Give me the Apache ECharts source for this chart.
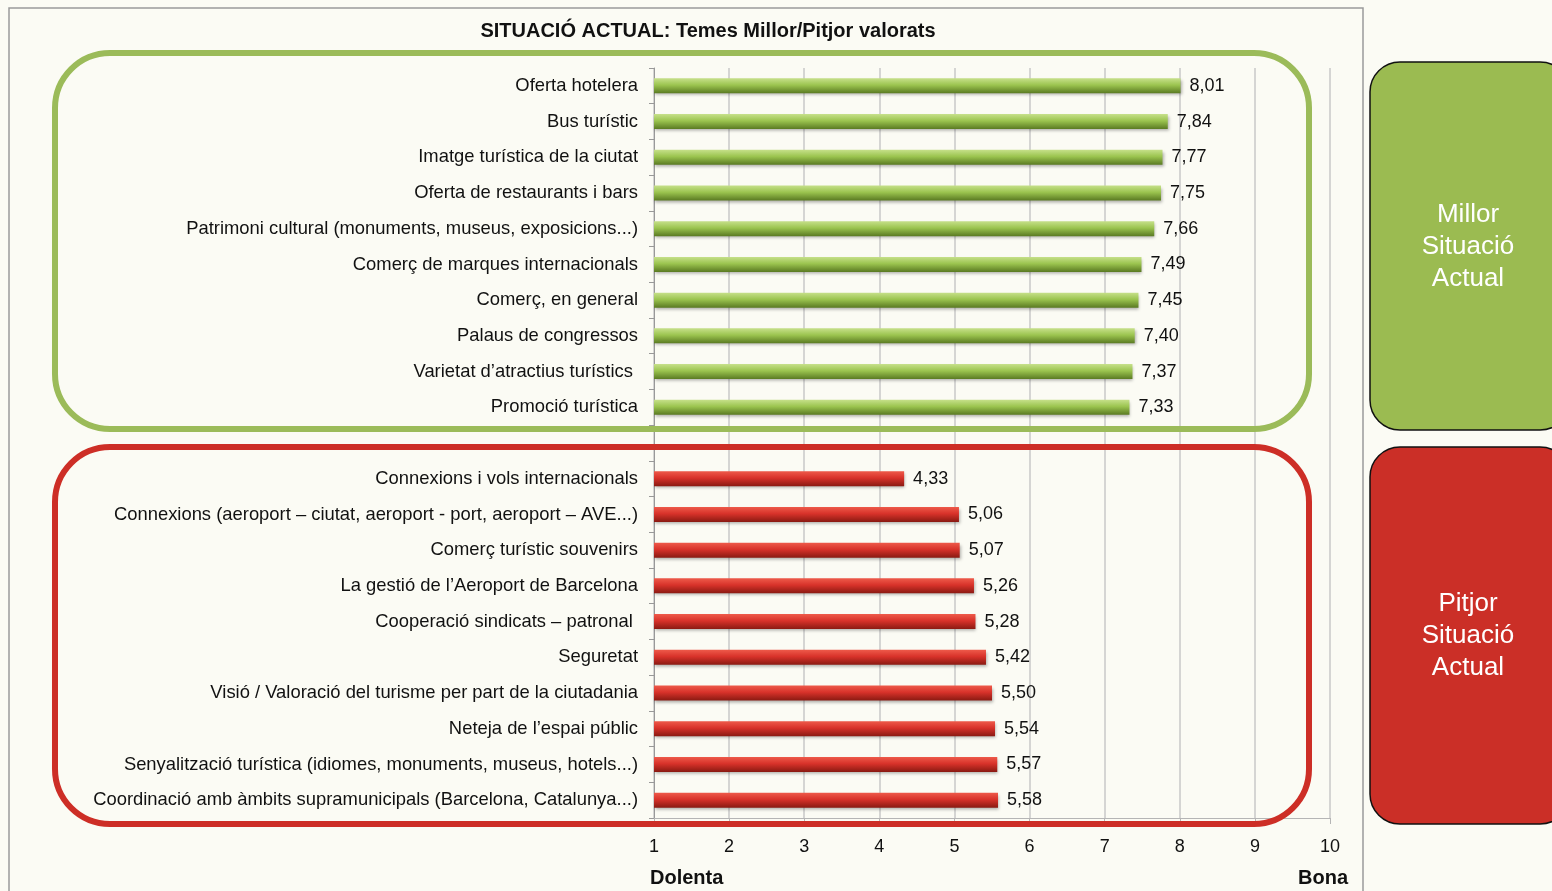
<!DOCTYPE html>
<html>
<head>
<meta charset="utf-8">
<script src="https://cdn.jsdelivr.net/npm/echarts@6/dist/echarts.min.js"></script>
<style>
  html, body { margin: 0; padding: 0; background: #fbfbf4; }
  #chart { width: 1552px; height: 891px; }
</style>
</head>
<body>
<div id="chart"></div>
<script>
// temes millor valorats
const bestTopics = [
  "Oferta hotelera",
  "Bus turístic",
  "Imatge turística de la ciutat",
  "Oferta de restaurants i bars",
  "Patrimoni cultural (monuments, museus, exposicions...)",
  "Comerç de marques internacionals",
  "Comerç, en general",
  "Palaus de congressos",
  "Varietat d’atractius turístics ",
  "Promoció turística"
];
const bestScores = [8.01, 7.84, 7.77, 7.75, 7.66, 7.49, 7.45, 7.40, 7.37, 7.33];

// temes pitjor valorats
const worstTopics = [
  "Connexions i vols internacionals",
  "Connexions (aeroport – ciutat, aeroport - port, aeroport – AVE...)",
  "Comerç turístic souvenirs",
  "La gestió de l’Aeroport de Barcelona",
  "Cooperació sindicats – patronal ",
  "Seguretat",
  "Visió / Valoració del turisme per part de la ciutadania",
  "Neteja de l’espai públic",
  "Senyalització turística (idiomes, monuments, museus, hotels...)",
  "Coordinació amb àmbits supramunicipals (Barcelona, Catalunya...)"
];
const worstScores = [4.33, 5.06, 5.07, 5.26, 5.28, 5.42, 5.50, 5.54, 5.57, 5.58];

const categories = bestTopics.concat([""], worstTopics);
const greenData = bestScores.concat(new Array(worstScores.length + 1).fill(null));
const redData = new Array(bestScores.length + 1).fill(null).concat(worstScores);

const FONT = "Liberation Sans, Arial, sans-serif";

let myChart = echarts.init(document.getElementById("chart"));

function barStyle(light, mid, dark) {
  return {
    color: new echarts.graphic.LinearGradient(0, 0, 0, 1, [
      { offset: 0, color: light },
      { offset: 0.45, color: mid },
      { offset: 1, color: dark }
    ]),
    shadowColor: "rgba(0,0,0,0.3)",
    shadowBlur: 3,
    shadowOffsetX: 1,
    shadowOffsetY: 2
  };
}

const valueLabel = {
  show: true,
  position: "right",
  distance: 9,
  color: "#111",
  fontSize: 18,
  fontFamily: FONT,
  formatter: (p) => p.value.toFixed(2).replace(".", ",")
};

myChart.setOption({
  backgroundColor: "#fbfbf4",
  animation: false,
  title: {
    text: "SITUACIÓ ACTUAL: Temes Millor/Pitjor valorats",
    left: 703,
    textAlign: "center",
    top: 16,
    textStyle: { fontSize: 20, fontWeight: "bold", color: "#111", fontFamily: FONT }
  },
  grid: { left: 654, right: 222, top: 68, bottom: 73 },
  xAxis: {
    type: "value",
    min: 1,
    max: 10,
    interval: 1,
    axisLine: { show: true, lineStyle: { color: "#b5b5b5" } },
    axisTick: { show: true, length: 6, lineStyle: { color: "#b5b5b5" } },
    axisLabel: { color: "#111", fontSize: 18, fontFamily: FONT, margin: 20 },
    splitLine: { show: true, lineStyle: { color: "#c8c8c8", width: 1.5 } }
  },
  yAxis: {
    type: "category",
    inverse: true,
    data: categories,
    axisLine: { show: true, lineStyle: { color: "#999" } },
    axisTick: { show: true, length: 5, lineStyle: { color: "#999" } },
    axisLabel: { color: "#111", fontSize: 18.4, fontFamily: FONT, margin: 16 }
  },
  series: [
    {
      name: "Millor",
      type: "bar",
      barWidth: 15,
      barGap: "-100%",
      data: greenData,
      itemStyle: barStyle("#c6e08a", "#9bc44f", "#5a7a22"),
      label: valueLabel,
      z: 3
    },
    {
      name: "Pitjor",
      type: "bar",
      barWidth: 15,
      data: redData,
      itemStyle: barStyle("#ee5a4a", "#d8322a", "#8a1a12"),
      label: valueLabel,
      z: 3
    }
  ],
  graphic: [
    {
      type: "rect",
      z: 0,
      silent: true,
      shape: { x: 9, y: 8, width: 1354, height: 900 },
      style: { fill: null, stroke: "#9a9a9a", lineWidth: 1.5 }
    },
    {
      type: "rect",
      z: 10,
      silent: true,
      shape: { x: 55, y: 53, width: 1254, height: 376, r: 55 },
      style: { fill: null, stroke: "#9bbb59", lineWidth: 6 }
    },
    {
      type: "rect",
      z: 10,
      silent: true,
      shape: { x: 55, y: 447, width: 1254, height: 377, r: 55 },
      style: { fill: null, stroke: "#cd2e26", lineWidth: 6 }
    },
    {
      type: "rect",
      z: 10,
      silent: true,
      shape: { x: 1370, y: 62, width: 200, height: 368, r: 30 },
      style: { fill: "#9bbb51", stroke: "#111", lineWidth: 1.5 }
    },
    {
      type: "rect",
      z: 10,
      silent: true,
      shape: { x: 1370, y: 447, width: 200, height: 377, r: 30 },
      style: { fill: "#cb2f27", stroke: "#111", lineWidth: 1.5 }
    },
    {
      type: "text",
      z: 11,
      silent: true,
      x: 1468,
      y: 247,
      style: {
        text: "Millor\nSituació\nActual",
        fill: "#fff",
        font: "26px " + FONT,
        lineHeight: 32,
        align: "center",
        verticalAlign: "middle"
      }
    },
    {
      type: "text",
      z: 11,
      silent: true,
      x: 1468,
      y: 636,
      style: {
        text: "Pitjor\nSituació\nActual",
        fill: "#fff",
        font: "26px " + FONT,
        lineHeight: 32,
        align: "center",
        verticalAlign: "middle"
      }
    },
    {
      type: "text",
      z: 11,
      silent: true,
      x: 650,
      y: 878,
      style: { text: "Dolenta", fill: "#111", font: "bold 20px " + FONT, verticalAlign: "middle" }
    },
    {
      type: "text",
      z: 11,
      silent: true,
      x: 1348,
      y: 878,
      style: { text: "Bona", fill: "#111", font: "bold 20px " + FONT, align: "right", verticalAlign: "middle" }
    }
  ]
});

window.addEventListener("resize", () => {
  myChart.resize();
});
</script>
</body>
</html>
